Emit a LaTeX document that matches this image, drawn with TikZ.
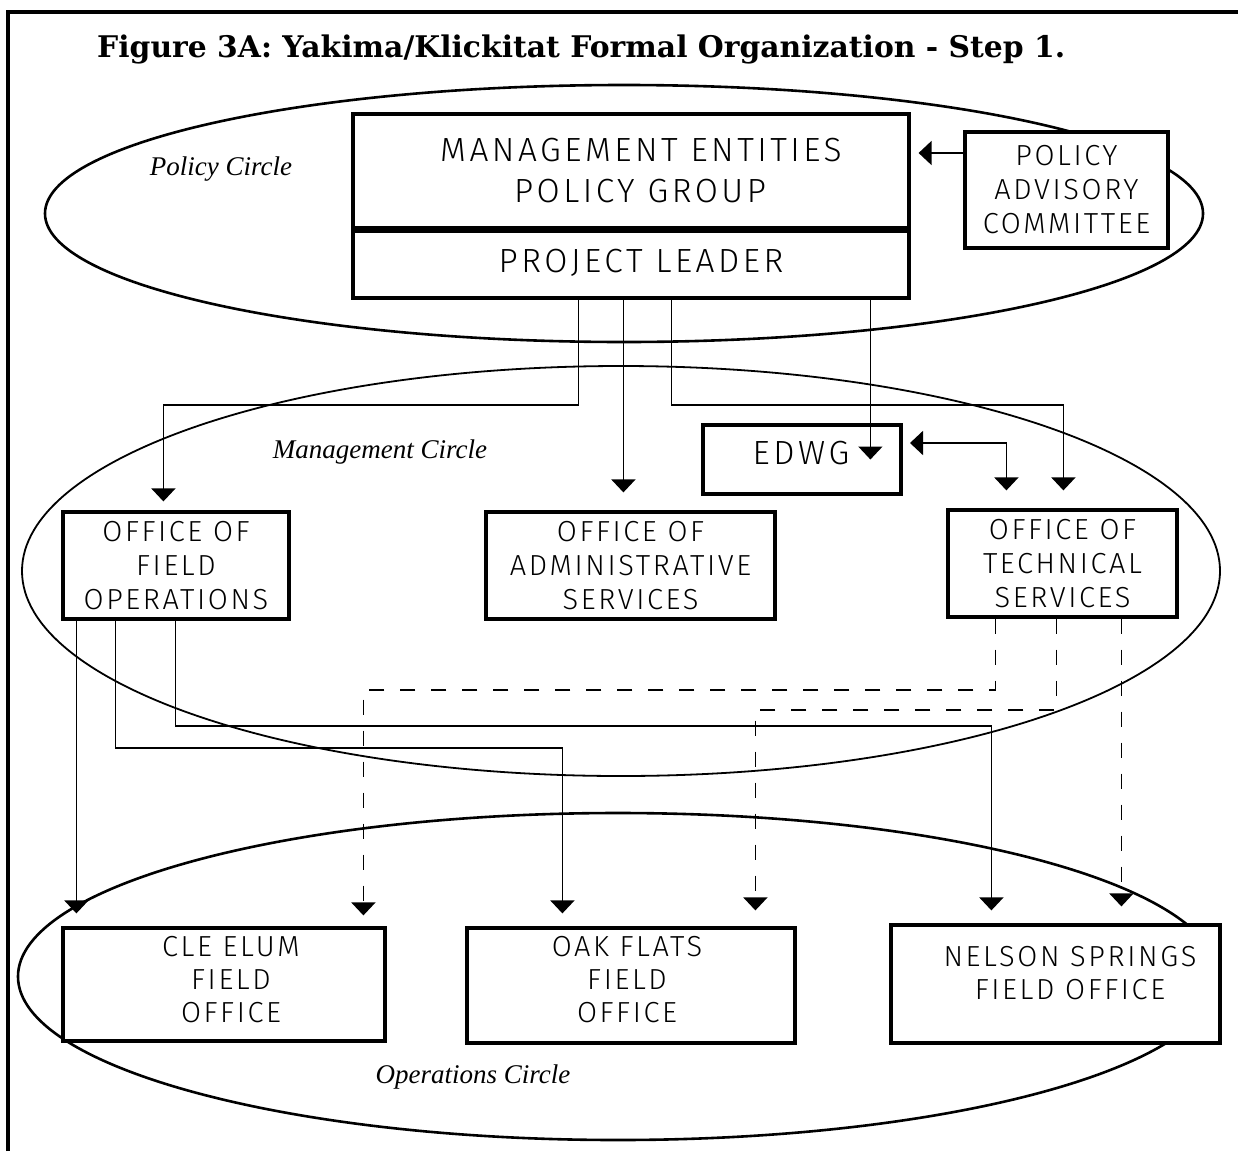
\documentclass[tikz,border=0pt]{standalone}
\usepackage{fontspec}
\setmainfont{Liberation Serif}
\newfontfamily\titlefont{DejaVu Serif}
\newfontfamily\plotfont{Fira Sans Light}[LetterSpace=10.5]
\newfontfamily\plotfontsmall{Fira Sans Light}[LetterSpace=9]
\usetikzlibrary{arrows.meta}

\begin{document}
\begin{tikzpicture}[x=1pt,y=-1pt,
  box/.style={draw, line width=3.2pt, fill=white, inner sep=0pt, align=center,
    font=\plotfontsmall\fontsize{29}{34}\selectfont},
  bigbox/.style={box, font=\plotfont\fontsize{33.5}{41}\selectfont},
  boxtext/.style={inner sep=0pt, align=center, font=\plotfontsmall\fontsize{29}{33}\selectfont},
  link/.style={line width=1.8pt, -{Triangle[width=24pt,length=13pt]}},
  dlink/.style={link, dash pattern=on 15pt off 16pt},
  circlelabel/.style={font=\itshape\fontsize{27}{30}\selectfont, inner sep=0pt, anchor=base},
]
\useasboundingbox (0,0) rectangle (1238,1151);

% page frame
\draw[line width=3.5pt] (8,1151) -- (8,12) -- (1238,12);

% title
\node[font=\titlefont\bfseries\fontsize{29.8}{34}\selectfont, anchor=base west, inner sep=0pt]
  (title) at (97,57) {Figure 3A: Yakima/Klickitat Formal Organization - Step 1.};

% the three circles
\draw[line width=2.6pt] (624,213.5) ellipse [x radius=579, y radius=128.5];
\draw[line width=1.8pt] (621,571) ellipse [x radius=599, y radius=205];
\draw[line width=2.6pt] (618,976.5) ellipse [x radius=600, y radius=163.5];

\node[circlelabel] (polc) at (221,175) {Policy Circle};
\node[circlelabel] (mgmc) at (380,458) {Management Circle};
\node[circlelabel] (opsc) at (473,1083) {Operations Circle};

% policy level
\node[bigbox, minimum width=556pt, minimum height=114pt] (mepg) at (631,171)
  {\hspace*{20pt}MANAGEMENT ENTITIES\\\hspace*{18pt}POLICY GROUP};
\node[bigbox, minimum width=556pt, minimum height=70pt] (pl) at (631,263)
  {\hspace*{20pt}PROJECT LEADER};
\draw[line width=6pt] (mepg.south west) -- (mepg.south east);
\node[box, minimum width=203pt, minimum height=116pt] (pac) at (1066.5,190)
  {POLICY\\ADVISORY\\COMMITTEE};

% management level
\node[bigbox, line width=4pt, minimum width=198pt, minimum height=69pt] (edwg) at (802,459.5) {};
\node[boxtext, font=\plotfont\fontsize{33.5}{41}\selectfont] (edwgtext) at (801,453) {EDWG};
\node[box, minimum width=226pt, minimum height=107pt] (ofo) at (176,565.5)
  {OFFICE OF\\FIELD\\OPERATIONS};
\node[box, minimum width=289pt, minimum height=107pt] (oas) at (630.5,565.5)
  {OFFICE OF\\ADMINISTRATIVE\\SERVICES};
\node[box, minimum width=229pt, minimum height=107pt] (ots) at (1062.5,563.5)
  {OFFICE OF\\TECHNICAL\\SERVICES};

% operations level
\node[box, minimum width=322pt, minimum height=113pt] (cle) at (224,984.5) {};
\node[boxtext] (cletext) at (231,980) {CLE ELUM\\FIELD\\OFFICE};
\node[box, minimum width=328pt, minimum height=115pt] (oak) at (631,985.5) {};
\node[boxtext] (oaktext) at (627,980) {OAK FLATS\\FIELD\\OFFICE};
\node[box, minimum width=329pt, minimum height=118pt] (nel) at (1055.5,984) {};
\node[boxtext] (neltext) at (1070,973) {NELSON SPRINGS\\FIELD OFFICE};

% advisory committee to policy group
\draw[link, shorten >=8pt] ([yshift=37pt]pac.west) coordinate (pa) -- (pa -| mepg.east);

% project leader to the offices
\draw[link, shorten >=9pt] ([xshift=227pt]pl.south west) -- ++(0,105)
  -| ([xshift=102pt]ofo.north west);
\draw[link, shorten >=18pt] ([xshift=272pt]pl.south west) coordinate (a2) -- (a2 |- oas.north);
\draw[link, shorten >=18pt] ([xshift=320pt]pl.south west) -- ++(0,105)
  -| ([xshift=117pt]ots.north west);
\draw[link] ([xshift=519pt]pl.south west) coordinate (a4) -- (a4 |- edwg.center);

% EDWG and technical services
\draw[line width=1.8pt, {Triangle[width=24pt,length=13pt]}-{Triangle[width=24pt,length=13pt]},
  shorten <=7pt, shorten >=18pt]
  ([yshift=16.5pt]edwg.east) -| ([xshift=60pt]ots.north west);

% field operations to the field offices
\draw[link, shorten >=13pt] ([xshift=15pt]ofo.south west) coordinate (b1) -- (b1 |- cle.north);
\draw[link, shorten >=13pt] ([xshift=54pt]ofo.south west) -- ++(0,127)
  -| ([xshift=97pt]oak.north west);
\draw[link, shorten >=13pt] ([xshift=114pt]ofo.south west) -- ++(0,105)
  -| ([xshift=102pt]nel.north west);

% technical services to the field offices
\draw[dlink, shorten >=11pt] ([xshift=49pt]ots.south west) -- ++(0,71)
  -| ([xshift=302pt]cle.north west);
\draw[dlink, shorten >=16pt] ([xshift=110pt]ots.south west) -- ++(0,91)
  -| ([xshift=290pt]oak.north west);
\draw[dlink, shorten >=17pt] ([xshift=175pt]ots.south west) coordinate (c3) -- (c3 |- nel.north);
\end{tikzpicture}
\end{document}
